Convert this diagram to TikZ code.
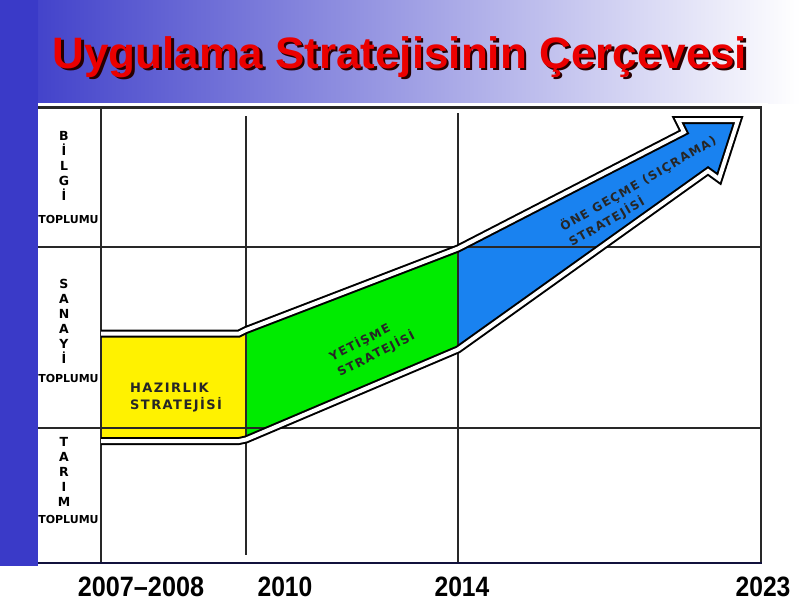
\documentclass[tikz,border=0pt]{standalone}
\usepackage{fontspec}
\usepackage{graphicx}
\setmainfont{Liberation Sans}
\newfontfamily\sidefont{DejaVu Sans}
\newfontfamily\labelfont[LetterSpace=11]{DejaVu Sans}
\definecolor{slideblue}{RGB}{58,58,200}
\definecolor{titlered}{RGB}{235,0,0}
\definecolor{bandgreen}{RGB}{0,235,0}
\definecolor{bandblue}{RGB}{25,130,240}
\definecolor{gridgray}{RGB}{40,40,40}

\begin{document}
\begin{tikzpicture}[x=1pt,y=-1pt,
	grid/.style={gridgray,line width=1.5pt},
	band/.style={line width=2pt,double=white,double distance=4pt,line join=miter},
	letter/.style={font=\sidefont\bfseries\fontsize{12.5}{14}\selectfont,inner sep=0pt,anchor=base},
	society/.style={font=\sidefont\bfseries\fontsize{11}{13}\selectfont,inner sep=0pt,anchor=base},
	strategy/.style={font=\labelfont\bfseries\fontsize{12}{17.5}\selectfont,align=left,inner sep=0pt,anchor=base west,black!85},
	headline/.style={font=\bfseries\fontsize{44}{46}\selectfont,anchor=base},
	year/.style={font=\bfseries\fontsize{28}{30}\selectfont,inner sep=0pt,anchor=base}]
	\useasboundingbox (0,0) rectangle (800,600);
	\fill[white] (0,0) rectangle (800,600);
	\shade[left color=slideblue,right color=white] (0,0) rectangle (800,103);
	\fill[slideblue] (0,0) rectangle (38,566);
	\fill[white] (38,103) rectangle (768,566);

	\coordinate (a1) at (101,333.5);
	\coordinate (a2) at (239,333.5);
	\coordinate (a3) at (246,330);
	\coordinate (a4) at (458,248.5);
	\coordinate (a5) at (684,132);
	\coordinate (a6) at (678,120);
	\coordinate (a7) at (738,120);
	\coordinate (a8) at (719,179);
	\coordinate (a9) at (708,171);
	\coordinate (a10) at (458,349.5);
	\coordinate (a11) at (246,439.5);
	\coordinate (a12) at (239,441);
	\coordinate (a13) at (101,441);

	\fill[yellow] (a1)--(a2)--(a3)--(a11)--(a12)--(a13)--cycle;
	\fill[bandgreen] (a3)--(a4)--(a10)--(a11)--cycle;
	\fill[bandblue] (a4)--(a5)--(a6)--(a7)--(a8)--(a9)--(a10)--cycle;

	\draw[grid] (38,247)--(761,247);
	\draw[grid] (38,428)--(761,428);
	\draw[grid] (101,107)--(101,563);
	\draw[grid] (246,116)--(246,555);
	\draw[grid] (458,113)--(458,563);
	\draw[gridgray,line width=3pt] (38,107)--(762,107);
	\draw[gridgray,line width=2pt] (761,107)--(761,563);
	\draw[black!70!slideblue,line width=2pt] (38,563)--(762,563);

	\draw[band] (a1)--(a2)--(a3)--(a4)--(a5)--(a6)--(a7)--(a8)--(a9)--(a10)--(a11)--(a12)--(a13);

	\node[headline,text=black!85!red] (titleshadow) at (402.5,70.5) {Uygulama Stratejisinin Çerçevesi};
	\node[headline,text=titlered] (title) at (400,68) {Uygulama Stratejisinin Çerçevesi};

	\foreach \l [count=\i] in {B,İ,L,G,İ}
		\node[letter] (bilgi\i) at (64,{125+15*\i}) {\l};
	\foreach \l [count=\i] in {S,A,N,A,Y,İ}
		\node[letter] (sanayi\i) at (64,{273.5+15*\i}) {\l};
	\foreach \l [count=\i] in {T,A,R,I,M}
		\node[letter] (tarim\i) at (64,{431.5+15*\i}) {\l};
	\node[society] (toplumu1) at (68.5,223) {TOPLUMU};
	\node[society] (toplumu2) at (68.5,382) {TOPLUMU};
	\node[society] (toplumu3) at (68.5,523) {TOPLUMU};

	\node[strategy,font=\labelfont\bfseries\fontsize{13}{17}\selectfont] (hazirlik) at (130,409) {HAZIRLIK\\STRATEJİSİ};
	\node[strategy,rotate=27] (yetisme) at (340,377) {YETİŞME\\STRATEJİSİ};
	\node[strategy,rotate=30] (onegecme) at (572,247) {ÖNE GEÇME (SIÇRAMA)\\STRATEJİSİ};

	\node[year] (y0708) at (141,596) {\scalebox{0.9}[1]{2007–2008}};
	\node[year] (y2010) at (285,596) {\scalebox{0.88}[1]{2010}};
	\node[year] (y2014) at (462,596) {\scalebox{0.88}[1]{2014}};
	\node[year] (y2023) at (763,596) {\scalebox{0.88}[1]{2023}};
\end{tikzpicture}
\end{document}
